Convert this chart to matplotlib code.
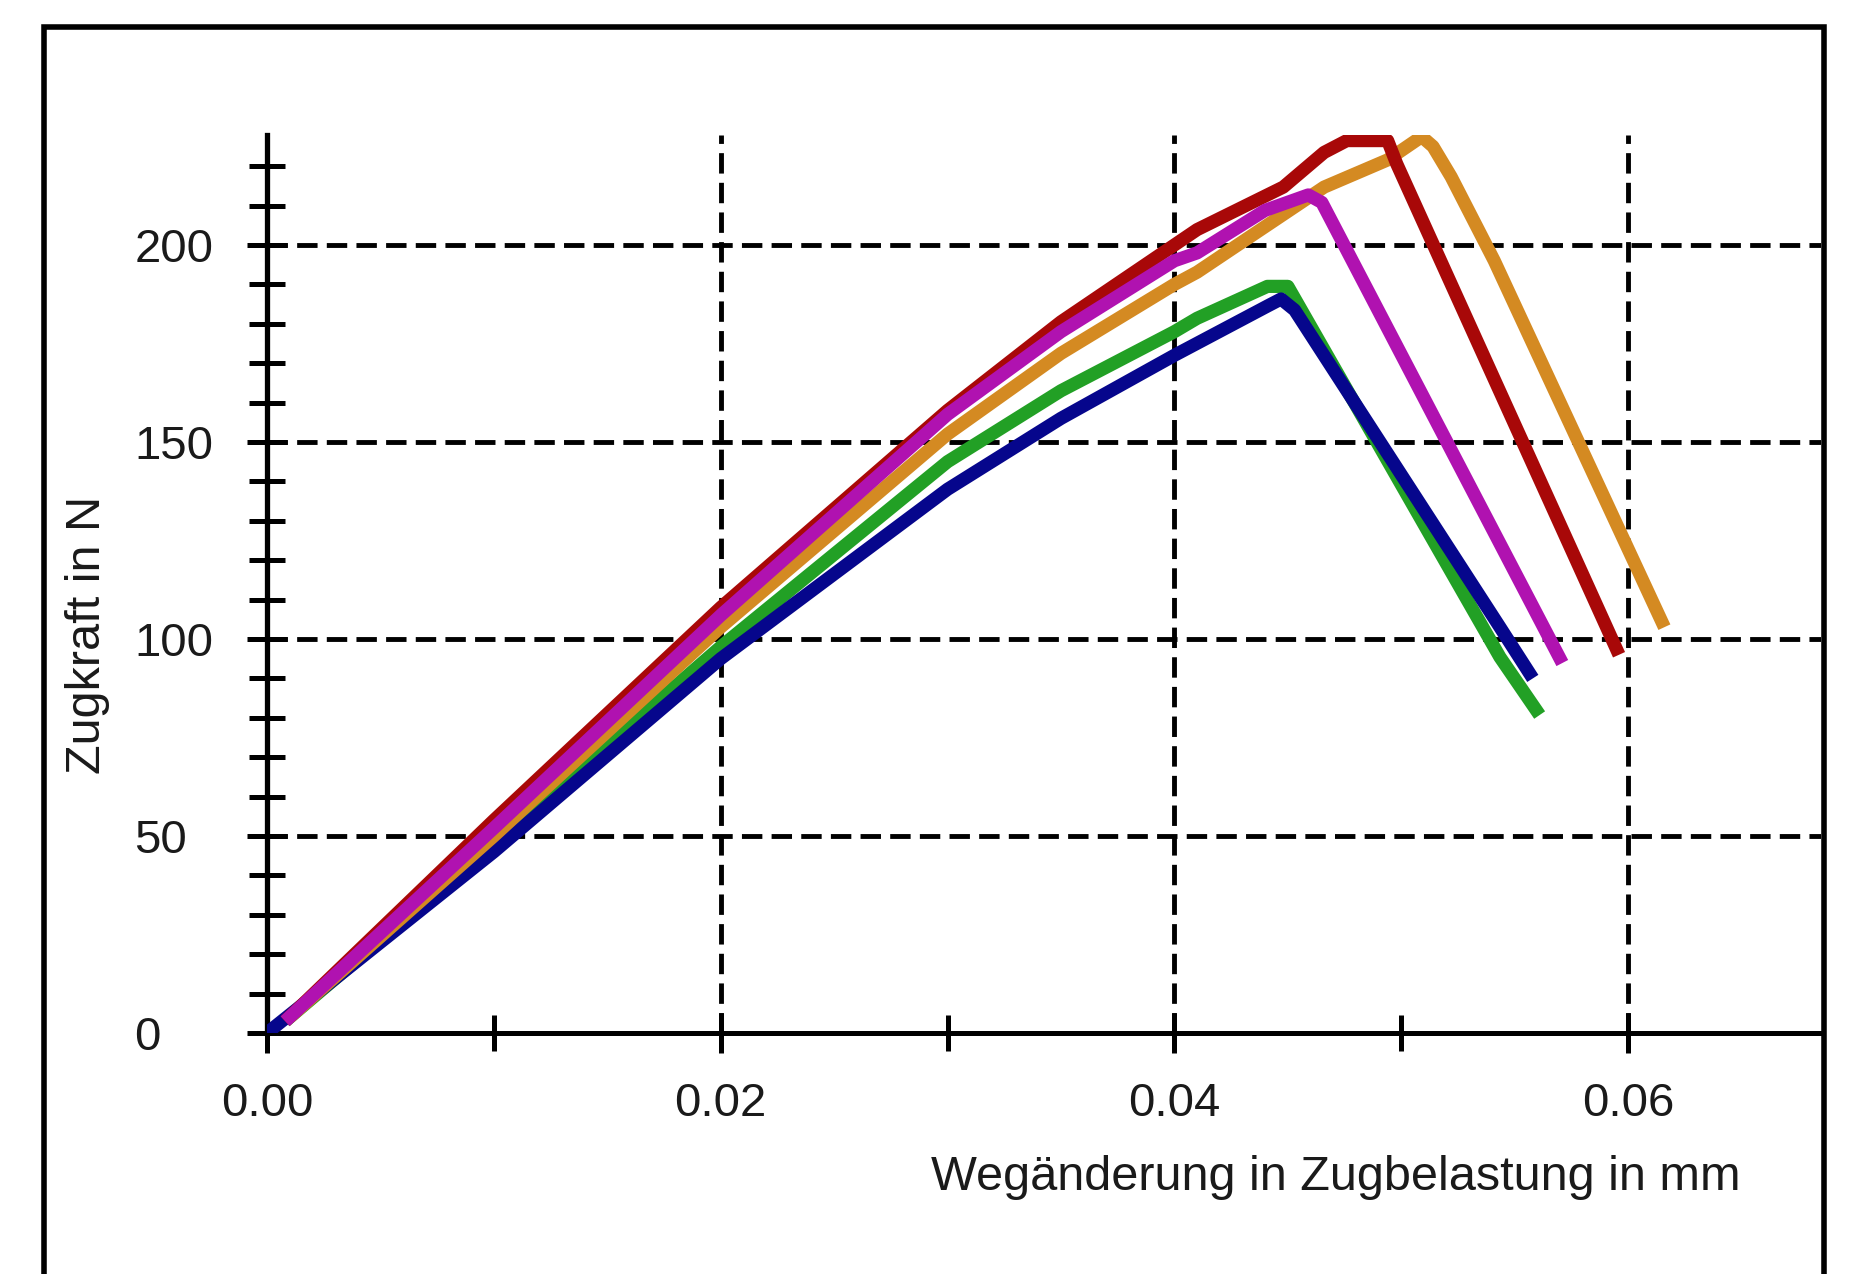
import matplotlib
matplotlib.use("Agg")
import matplotlib.pyplot as plt
from matplotlib.patches import Rectangle
from matplotlib.ticker import MultipleLocator, FixedLocator

plt.rcParams['font.family'] = ['Liberation Sans', 'DejaVu Sans']

# ---- data (x: Wegänderung in mm, y: Zugkraft in N) ----
blue_x = [0.0, 0.010, 0.020, 0.030, 0.035, 0.040, 0.0441, 0.0447, 0.0453, 0.05435, 0.0558]
blue_y = [0.0, 46.0, 95.0, 138.0, 156.0, 172.0, 184.5, 186.3, 183.5, 103.0, 90.0]

green_x = [0.0008, 0.010, 0.020, 0.030, 0.035, 0.040, 0.0410, 0.0441, 0.0450, 0.05435, 0.0561]
green_y = [3.0, 48.0, 98.0, 145.0, 163.0, 178.0, 181.4, 189.5, 189.5, 95.4, 80.7]

orange_x = [0.0010, 0.010, 0.020, 0.030, 0.035, 0.040, 0.0410, 0.0466, 0.0494, 0.0509, 0.0514, 0.0522, 0.0541, 0.0616]
orange_y = [4.0, 50.0, 103.0, 152.0, 172.5, 190.0, 193.1, 214.7, 221.6, 227.5, 225.0, 217.3, 196.0, 103.0]

red_x = [0.0008, 0.010, 0.020, 0.030, 0.035, 0.040, 0.0410, 0.0448, 0.0466, 0.0476, 0.0494, 0.0498, 0.0596]
red_y = [3.0, 54.0, 108.0, 158.0, 180.5, 200.0, 203.9, 214.7, 223.5, 226.5, 226.5, 220.6, 96.0]

magenta_x = [0.0008, 0.010, 0.020, 0.030, 0.035, 0.040, 0.0410, 0.0440, 0.0459, 0.0465, 0.0571]
magenta_y = [3.0, 52.0, 106.0, 157.0, 178.0, 196.0, 198.0, 208.8, 212.7, 210.8, 93.9]

series = [
    (green_x, green_y, "#22a025"),
    (blue_x, blue_y, "#06068c"),
    (orange_x, orange_y, "#d48a22"),
    (red_x, red_y, "#a80808"),
    (magenta_x, magenta_y, "#b012b0"),
]

x_major = [0.00, 0.02, 0.04, 0.06]
x_labels = ["0.00", "0.02", "0.04", "0.06"]
x_minor = [0.01, 0.03, 0.05]
y_major = [0, 50, 100, 150, 200]
y_labels = ["0", "50", "100", "150", "200"]

W, H = 1860, 1274
fig = plt.figure(figsize=(W / 100, H / 100), dpi=100)
fig.patch.set_facecolor("white")

ax_l, ax_r, ax_t, ax_b = 267, 1821, 135, 1033
ax = fig.add_axes([ax_l / W, 1 - ax_b / H, (ax_r - ax_l) / W, (ax_b - ax_t) / H])
ax.set_facecolor("white")

for xs, ys, c in series:
    ax.plot(xs, ys, color=c, lw=9.5, solid_joinstyle="round", solid_capstyle="butt", zorder=3)

ax.set_xlim(0, (ax_r - ax_l) / 22685.0)
ax.set_ylim(0, (ax_b - ax_t) / 3.94)

ax.xaxis.set_major_locator(FixedLocator(x_major))
ax.xaxis.set_minor_locator(FixedLocator(x_minor))
ax.set_xticklabels(x_labels)
ax.yaxis.set_major_locator(FixedLocator(y_major))
ax.yaxis.set_minor_locator(MultipleLocator(10))
ax.set_yticklabels(y_labels)

for s in ["top", "right"]:
    ax.spines[s].set_visible(False)
ax.spines["left"].set_linewidth(3.8)
ax.spines["bottom"].set_linewidth(3.6)

ax.grid(True, which="major", color="black", linestyle=(0, (4.2, 1.9)), linewidth=3.5)
ax.set_axisbelow(True)

ax.tick_params(axis="both", which="major", direction="inout", length=29, width=3.6,
               labelsize=34, labelcolor="#1a1a1a", color="black")
ax.tick_params(axis="both", which="minor", direction="inout", length=26, width=3.6, color="black")
ax.tick_params(axis="y", which="major", pad=81)
ax.tick_params(axis="x", which="major", pad=21)
for lab in ax.get_yticklabels():
    lab.set_horizontalalignment("left")

fig.text(88 / W, 1 - 635 / H, "Zugkraft in N", rotation=90, ha="center", va="center",
         fontsize=35, color="#1a1a1a")
fig.text(1336 / W, 1 - 1177 / H, "Wegänderung in Zugbelastung in mm", ha="center", va="center",
         fontsize=35, color="#1a1a1a")

fig.add_artist(Rectangle((44 / W, -0.05), (1824 - 44) / W, (1 - 27 / H) + 0.05,
                         transform=fig.transFigure, fill=False, lw=4, ec="black", clip_on=False))

fig.savefig("out.png", dpi=100)
